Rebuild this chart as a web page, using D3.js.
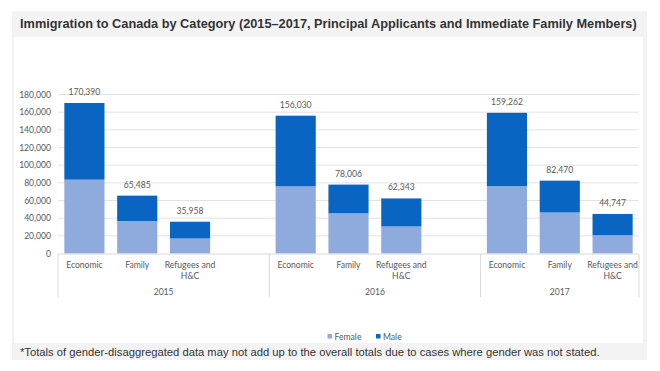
<!DOCTYPE html>
<html><head><meta charset="utf-8">
<script src="https://cdn.jsdelivr.net/npm/d3@7/dist/d3.min.js"></script>
<style>body{margin:0;background:#fff}svg{display:block}</style>
</head><body>
<svg id="c" width="660" height="371"></svg>
<script>
const years = ["2015", "2016", "2017"];
const categories = ["Economic", "Family", "Refugees and H&C"];
const female = [
  [83600, 36800, 17000],
  [76000, 45500, 30600],
  [76200, 46400, 20700]
];
const totals = [
  [170390, 65485, 35958],
  [156030, 78006, 62343],
  [159262, 82470, 44747]
];
const male = totals.map((r, i) => r.map((t, j) => t - female[i][j]));
const yTicks = [0, 20000, 40000, 60000, 80000, 100000, 120000, 140000, 160000, 180000];
const seriesNames = ["Female", "Male"];
const colors = {Female: "#8faadc", Male: "#0a64c1"};
const titleText = "Immigration to Canada by Category (2015\u20132017, Principal Applicants and Immediate Family Members)";
const noteText = "*Totals of gender-disaggregated data may not add up to the overall totals due to cases where gender was not stated.";

const svg = d3.select("#c");
const W = 660, H = 371;
const textCol = "#595959";
const smallFont = "Lato, 'Liberation Sans', Arial, sans-serif";

// backgrounds
svg.append("rect").attr("x", 12).attr("y", 11).attr("width", 635).attr("height", 349).attr("fill", "#f3f3f3");
svg.append("rect").attr("x", 14).attr("y", 37).attr("width", 629).attr("height", 306).attr("fill", "#ffffff");

function fitText(sel, target) {
  const w = sel.node().getComputedTextLength();
  const fs = parseFloat(sel.attr("font-size"));
  sel.attr("font-size", (fs * target / w).toFixed(2));
}

const title = svg.append("text").attr("x", 20).attr("y", 28).attr("font-family", "'Liberation Sans', Arial, sans-serif")
  .attr("font-weight", "bold").attr("font-size", 13).attr("fill", "#333").text(titleText);
fitText(title, 617);

const note = svg.append("text").attr("x", 20).attr("y", 356).attr("font-family", "'Liberation Sans', Arial, sans-serif")
  .attr("font-size", 12).attr("fill", "#333").text(noteText);
fitText(note, 580);

// slots: each year has its categories, plus a blank slot between years
const slots = [];
years.forEach((yr, i) => {
  categories.forEach(c => slots.push(yr + "|" + c));
  if (i < years.length - 1) slots.push(yr + "|blank");
});
const x0 = 58, x1 = 639;
const x = d3.scaleBand().domain(slots).range([x0, x1]).paddingInner(0.24).paddingOuter(0.12);
const step = x.step();
const y = d3.scaleLinear().domain([0, 180000]).range([253.5, 94.5]);

// gridlines
const gridG = svg.append("g");
gridG.selectAll("line").data(yTicks.slice(1)).join("line")
  .attr("x1", x0).attr("x2", x1).attr("y1", d => y(d)).attr("y2", d => y(d))
  .attr("stroke", "#e3e3e3").attr("stroke-width", 1);

// y axis labels via d3 axis
const yAxis = d3.axisLeft(y).tickValues(yTicks).tickSize(0).tickPadding(0).tickFormat(d3.format(","));
const yg = svg.append("g").attr("transform", `translate(51,0)`).call(yAxis);
yg.select(".domain").remove();
yg.selectAll("text").attr("font-family", smallFont).attr("font-size", 8.6).attr("fill", textCol);

// bars
const rows = [];
years.forEach((yr, i) => categories.forEach((c, j) => {
  rows.push({key: yr + "|" + c, Female: female[i][j], Male: male[i][j], total: totals[i][j]});
}));
const stack = d3.stack().keys(seriesNames)(rows);
svg.append("g").selectAll("g").data(stack).join("g").attr("fill", d => colors[d.key])
  .selectAll("rect").data(d => d).join("rect")
  .attr("x", d => x(d.data.key)).attr("width", x.bandwidth())
  .attr("y", d => y(d[1])).attr("height", d => y(d[0]) - y(d[1]));

// total labels
svg.append("g").selectAll("text").data(rows).join("text")
  .attr("x", d => x(d.key) + x.bandwidth() / 2).attr("y", d => y(d.total) - 8)
  .attr("text-anchor", "middle").attr("font-family", smallFont).attr("font-size", 8.6).attr("fill", textCol)
  .text(d => d3.format(",")(d.total));

// category axis
const axisY = 254;
svg.append("line").attr("x1", x0).attr("x2", x1).attr("y1", axisY).attr("y2", axisY).attr("stroke", "#d9d9d9");
const catLabels = svg.append("g");
rows.forEach(d => {
  const cx = x(d.key) + x.bandwidth() / 2;
  const name = d.key.split("|")[1];
  const lines = name === "Refugees and H&C" ? ["Refugees and", "H&C"] : [name];
  lines.forEach((ln, k) => {
    catLabels.append("text").attr("x", cx).attr("y", 268 + k * 11).attr("text-anchor", "middle")
      .attr("font-family", smallFont).attr("font-size", 8.6).attr("fill", textCol).text(ln);
  });
});
// year groups
let sepXs = [x0];
const groups = years.map(yr => {
  const ks = slots.filter(s => s.startsWith(yr + "|"));
  const start = slots.indexOf(ks[0]);
  const end = slots.indexOf(ks[ks.length - 1]) + 1;
  return {yr, a: x0 + start * step, b: x0 + end * step};
});
groups.forEach(g => sepXs.push(g.b));
svg.append("g").selectAll("line").data(sepXs).join("line")
  .attr("x1", d => d).attr("x2", d => d).attr("y1", axisY).attr("y2", 297)
  .attr("stroke", "#d9d9d9");
svg.append("g").selectAll("text").data(groups).join("text")
  .attr("x", d => (d.a + d.b) / 2).attr("y", 295).attr("text-anchor", "middle")
  .attr("font-family", smallFont).attr("font-size", 8.6).attr("fill", textCol).text(d => d.yr);

// legend
const leg = svg.append("g");
const legItems = [{n: "Female", x: 327.5}, {n: "Male", x: 376}];
legItems.forEach(it => {
  leg.append("rect").attr("x", it.x).attr("y", 334).attr("width", 4.5).attr("height", 4.5).attr("fill", colors[it.n]);
  leg.append("text").attr("x", it.x + 7).attr("y", 339.5).attr("font-family", smallFont).attr("font-size", 8.6)
    .attr("fill", textCol).text(it.n);
});
</script>
</body></html>
